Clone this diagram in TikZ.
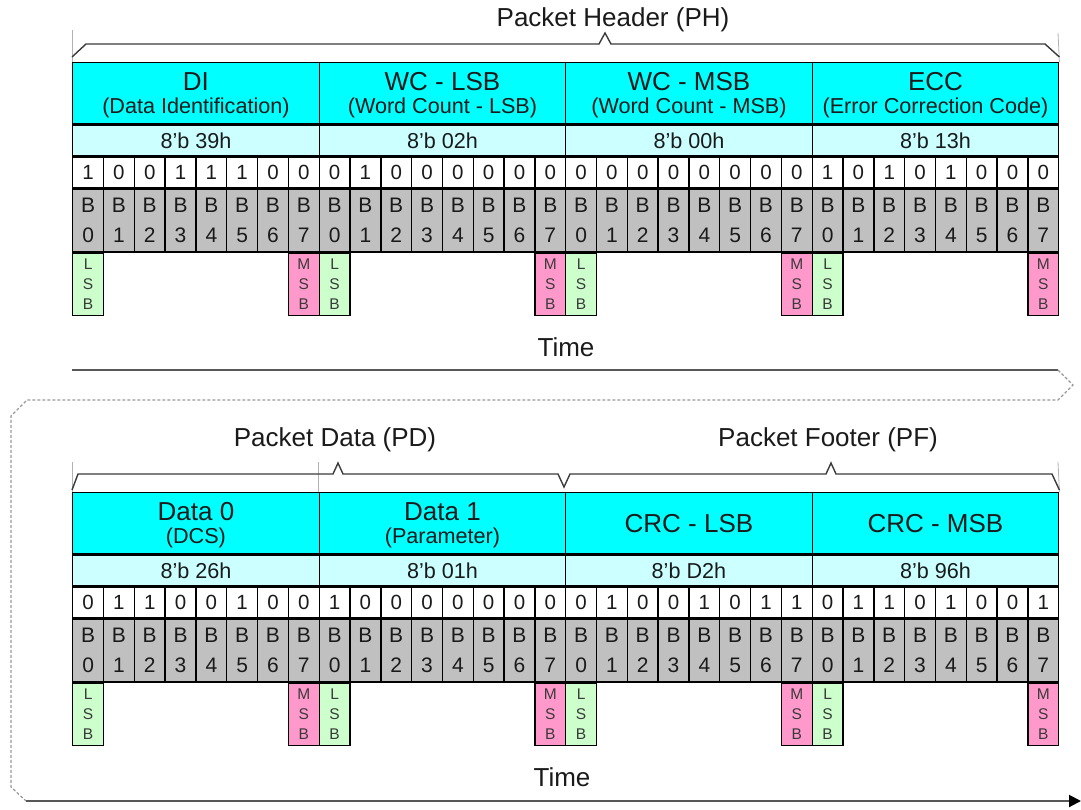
\documentclass[tikz,border=0pt]{standalone}
\usepackage{fontspec}
\setmainfont{Liberation Sans}
\usetikzlibrary{arrows.meta,positioning}
\definecolor{fieldcyan}{HTML}{00FFFF}
\definecolor{valcyan}{HTML}{CCFFFF}
\definecolor{bitgray}{HTML}{C0C0C0}
\definecolor{lsbgreen}{HTML}{CCFFCC}
\definecolor{msbpink}{HTML}{FF99CC}
\definecolor{ink}{HTML}{1A1A1A}
\definecolor{rulegray}{HTML}{3A3A3A}

\tikzset{
  cell/.style={draw=black,line width=1.4pt,inner sep=0pt,anchor=north west,align=center,text=ink},
  field/.style={cell,fill=fieldcyan,minimum width=246.5,minimum height=61},
  fieldtitle/.style={text=ink,inner sep=0pt,font=\fontsize{26}{28}\selectfont},
  fieldsub/.style={text=ink,inner sep=0pt,font=\fontsize{21.6}{24}\selectfont},
  hexval/.style={cell,fill=valcyan,minimum width=246.5,minimum height=31,font=\fontsize{21.6}{24}\selectfont},
  bitval/.style={cell,fill=white,minimum width=30.8125,minimum height=30,font=\fontsize{20.5}{22}\selectfont},
  bitname/.style={cell,fill=bitgray,minimum width=30.8125,minimum height=63,font=\fontsize{21}{30}\selectfont},
  lsbbox/.style={cell,fill=lsbgreen,minimum width=30.8125,minimum height=62,text=rulegray,font=\fontsize{15.5}{20}\selectfont},
  msbbox/.style={lsbbox,fill=msbpink},
  bracepath/.style={draw=rulegray,line width=1.4pt},
  tickline/.style={draw=gray!60,line width=0.8pt},
  caption/.style={text=ink,font=\fontsize{26}{28}\selectfont},
  timeline/.style={draw=rulegray!85,line width=2pt},
  wrapline/.style={draw=gray!80,line width=1.2pt,dash pattern=on 3pt off 2pt},
}

% bit values, bit names and the LSB/MSB tags under one byte
\newcommand{\bytebits}[2]{%
  \foreach \b [count=\k from 0] in {#2} {
    \node[bitval] (#1-v\k) at ([xshift={\k*30.8125pt}]#1-hex.south west) {\b};
    \node[bitname] (#1-b\k) at (#1-v\k.south west) {B\\\k};
  }
  \node[lsbbox] (#1-lsb) at (#1-b0.south west) {L\\S\\B};
  \node[msbbox] (#1-msb) at (#1-b7.south west) {M\\S\\B};
}

\begin{document}
\begin{tikzpicture}[x=1pt,y=-1pt]
\useasboundingbox (0,0) rectangle (1081,809);

% ---- packet header
\node[caption] (ph) at (613,20) {Packet Header (PH)};
\foreach \name [count=\i from 0] in {di,wcl,wcm,ecc}
  \node[field] (\name) at ({72+246.5*\i},62) {};
\node[fieldtitle] (di-t) at ([yshift=12pt]di.center) {DI};
\node[fieldsub] (di-s) at ([yshift=-15pt]di.center) {(Data Identification)};
\node[fieldtitle] (wcl-t) at ([yshift=12pt]wcl.center) {WC - LSB};
\node[fieldsub] (wcl-s) at ([yshift=-15pt]wcl.center) {(Word Count - LSB)};
\node[fieldtitle] (wcm-t) at ([yshift=12pt]wcm.center) {WC - MSB};
\node[fieldsub] (wcm-s) at ([yshift=-15pt]wcm.center) {(Word Count - MSB)};
\node[fieldtitle] (ecc-t) at ([yshift=12pt]ecc.center) {ECC};
\node[fieldsub] (ecc-s) at ([yshift=-15pt]ecc.center) {(Error Correction Code)};

\node[hexval] (di-hex) at (di.south west) {8'b 39h};
\node[hexval] (wcl-hex) at (wcl.south west) {8'b 02h};
\node[hexval] (wcm-hex) at (wcm.south west) {8'b 00h};
\node[hexval] (ecc-hex) at (ecc.south west) {8'b 13h};

\bytebits{di}{1,0,0,1,1,1,0,0}
\bytebits{wcl}{0,1,0,0,0,0,0,0}
\bytebits{wcm}{0,0,0,0,0,0,0,0}
\bytebits{ecc}{1,0,1,0,1,0,0,0}

% brace over the header
\draw[tickline] (72,30) -- (di.north west);
\draw[tickline] (1058,33) -- (ecc.north east);
\draw[bracepath] ([yshift=5pt]di.north west) -- (86,44) -- (599,44) -- (605,33)
  -- (611,44) -- (1045,44) -- ([yshift=5pt]ecc.north east);

% ---- time, wrapping to the second line
\node[caption] (time1) at (566,347) {Time};
\coordinate (ta) at (72,370);
\coordinate (tb) at (1058,370);
\coordinate (tc) at (1073,385);
\coordinate (td) at (1058,400);
\coordinate (te) at (27,400);
\coordinate (tf) at (11,416);
\coordinate (tg) at (11,787);
\coordinate (th) at (26,801);
\coordinate (ti) at (1081,801);
\draw[timeline] (ta) -- (tb);
\draw[wrapline] (tb) -- (tc) -- (td) -- (te) -- (tf) -- (tg) -- (th);
\draw[timeline,-{Triangle[length=12pt,width=12pt,color=black,fill=black]}] (th) -- (ti);

% ---- packet data and packet footer
\node[caption] (pd) at (335,440) {Packet Data (PD)};
\node[caption] (pf) at (828,440) {Packet Footer (PF)};
\foreach \name [count=\i from 0] in {dz,dn,crcl,crcm}
  \node[field] (\name) at ({72+246.5*\i},492) {};
\node[fieldtitle] (dz-t) at ([yshift=12pt]dz.center) {Data 0};
\node[fieldsub] (dz-s) at ([yshift=-15pt]dz.center) {(DCS)};
\node[fieldtitle] (dn-t) at ([yshift=12pt]dn.center) {Data 1};
\node[fieldsub] (dn-s) at ([yshift=-15pt]dn.center) {(Parameter)};
\node[fieldtitle] (crcl-t) at (crcl.center) {CRC - LSB};
\node[fieldtitle] (crcm-t) at (crcm.center) {CRC - MSB};

\node[hexval] (dz-hex) at (dz.south west) {8'b 26h};
\node[hexval] (dn-hex) at (dn.south west) {8'b 01h};
\node[hexval] (crcl-hex) at (crcl.south west) {8'b D2h};
\node[hexval] (crcm-hex) at (crcm.south west) {8'b 96h};

\bytebits{dz}{0,1,1,0,0,1,0,0}
\bytebits{dn}{1,0,0,0,0,0,0,0}
\bytebits{crcl}{0,1,0,0,1,0,1,1}
\bytebits{crcm}{0,1,1,0,1,0,0,1}

% braces over data and footer
\draw[tickline] (72,462) -- (dz.north west);
\draw[tickline] (318.5,462) -- (dn.north west);
\draw[tickline] (1058,462) -- (crcm.north east);
\draw[bracepath] ([yshift=2pt]dz.north west) -- (78,474) -- (333,474) -- (338,463)
  -- (343,474) -- (558,474) -- (564,487) -- (570,474) -- (826,474) -- (831,463)
  -- (836,474) -- (1052,474) -- ([yshift=2pt]crcm.north east);

\node[caption] (time2) at (562,777) {Time};
\end{tikzpicture}
\end{document}
